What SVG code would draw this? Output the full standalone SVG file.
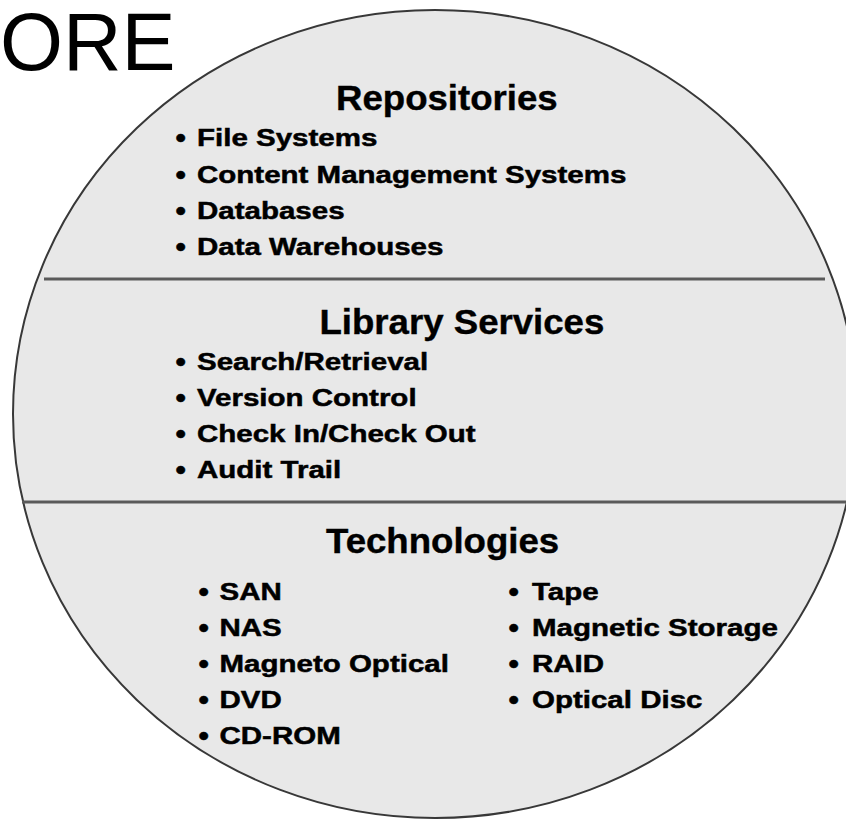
<svg xmlns="http://www.w3.org/2000/svg" width="846" height="821" viewBox="0 0 846 821">
<style>
.bg{fill:#ffffff}
.disc{fill:#e8e8e8;stroke:#383838;stroke-width:2}
.div{stroke:#5a5a5a;stroke-width:3}
.title{font-family:"Liberation Sans",Arial,sans-serif;font-size:81px;fill:#000}
.head{font-family:"Liberation Sans",Arial,sans-serif;font-weight:bold;font-size:35px;fill:#000;stroke:#000;stroke-width:0.4}
.item{font-family:"Liberation Sans",Arial,sans-serif;font-weight:bold;font-size:24.5px;fill:#000;stroke:#000;stroke-width:0.5}
.bul{font-family:"Liberation Sans",Arial,sans-serif;font-weight:bold;font-size:27px;fill:#000;stroke:#000;stroke-width:0.5}
</style>
<rect class="bg" x="0" y="0" width="846" height="821"/>
<g id="title">
<text class="title" x="0" y="70">ORE</text>
</g>
<g id="disc">
<ellipse class="disc" cx="435" cy="414" rx="422" ry="404"/>
</g>
<g id="dividers">
<line class="div" x1="44" y1="279" x2="825" y2="279"/>
<line class="div" x1="22" y1="502" x2="846" y2="502"/>
</g>
<g id="repositories">
<text class="head" transform="translate(336 110) scale(1.046 1)">Repositories</text>
<text class="bul" transform="translate(175.5 147) scale(1.1 1)">•</text>
<text class="item" transform="translate(197 146) scale(1.204 1)">File Systems</text>
<text class="bul" transform="translate(175.5 184) scale(1.1 1)">•</text>
<text class="item" transform="translate(197 183) scale(1.204 1)">Content Management Systems</text>
<text class="bul" transform="translate(175.5 220) scale(1.1 1)">•</text>
<text class="item" transform="translate(197 219) scale(1.204 1)">Databases</text>
<text class="bul" transform="translate(175.5 256) scale(1.1 1)">•</text>
<text class="item" transform="translate(197 255) scale(1.204 1)">Data Warehouses</text>
</g>
<g id="library-services">
<text class="head" transform="translate(319.5 334) scale(1.046 1)">Library Services</text>
<text class="bul" transform="translate(175.5 371) scale(1.1 1)">•</text>
<text class="item" transform="translate(197 370) scale(1.204 1)">Search/Retrieval</text>
<text class="bul" transform="translate(175.5 407) scale(1.1 1)">•</text>
<text class="item" transform="translate(197 406) scale(1.204 1)">Version Control</text>
<text class="bul" transform="translate(175.5 443) scale(1.1 1)">•</text>
<text class="item" transform="translate(197 442) scale(1.204 1)">Check In/Check Out</text>
<text class="bul" transform="translate(175.5 479) scale(1.1 1)">•</text>
<text class="item" transform="translate(197 478) scale(1.204 1)">Audit Trail</text>
</g>
<g id="technologies">
<text class="head" transform="translate(326 553) scale(1.046 1)">Technologies</text>
<text class="bul" transform="translate(198.5 601) scale(1.1 1)">•</text>
<text class="item" transform="translate(219.5 600) scale(1.204 1)">SAN</text>
<text class="bul" transform="translate(198.5 637) scale(1.1 1)">•</text>
<text class="item" transform="translate(219.5 636) scale(1.204 1)">NAS</text>
<text class="bul" transform="translate(198.5 673) scale(1.1 1)">•</text>
<text class="item" transform="translate(219.5 672) scale(1.204 1)">Magneto Optical</text>
<text class="bul" transform="translate(198.5 709) scale(1.1 1)">•</text>
<text class="item" transform="translate(219.5 708) scale(1.204 1)">DVD</text>
<text class="bul" transform="translate(198.5 745) scale(1.1 1)">•</text>
<text class="item" transform="translate(219.5 744) scale(1.204 1)">CD-ROM</text>
<text class="bul" transform="translate(508.5 601) scale(1.1 1)">•</text>
<text class="item" transform="translate(532 600) scale(1.204 1)">Tape</text>
<text class="bul" transform="translate(508.5 637) scale(1.1 1)">•</text>
<text class="item" transform="translate(532 636) scale(1.204 1)">Magnetic Storage</text>
<text class="bul" transform="translate(508.5 673) scale(1.1 1)">•</text>
<text class="item" transform="translate(532 672) scale(1.204 1)">RAID</text>
<text class="bul" transform="translate(508.5 709) scale(1.1 1)">•</text>
<text class="item" transform="translate(532 708) scale(1.204 1)">Optical Disc</text>
</g>
</svg>
